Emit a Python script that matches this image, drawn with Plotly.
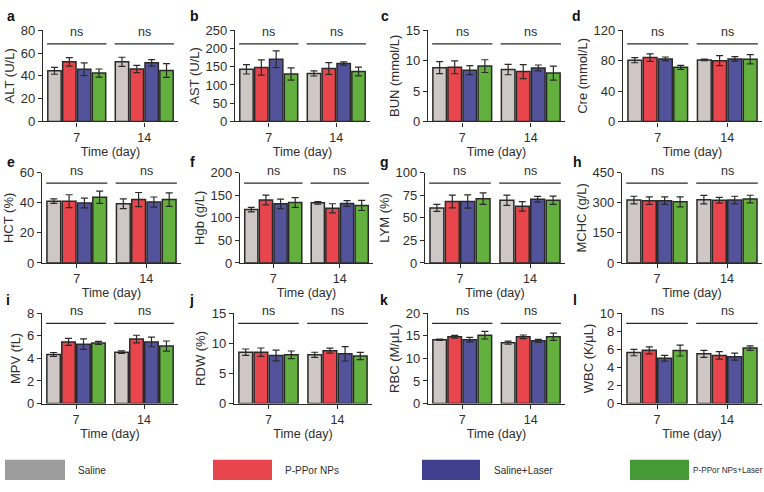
import plotly.graph_objects as go

W, H = 764, 492
groups = ["Saline", "P-PPor NPs", "Saline+Laser", "P-PPor NPs+Laser"]
days = ["7", "14"]
panel_letters = ["a", "b", "c", "d", "e", "f", "g", "h", "i", "j", "k", "l"]
ylabels = ["ALT (U/L)", "AST (U/L)", "BUN (mmol/L)", "Cre (mmol/L)",
           "HCT (%)", "Hgb (g/L)", "LYM (%)", "MCHC (g/L)",
           "MPV (fL)", "RDW (%)", "RBC (M/μL)", "WBC (K/μL)"]
ymax = [80, 250, 15, 120, 60, 200, 100, 450, 8, 15, 20, 10]
ydtick = [20, 50, 5, 40, 20, 50, 25, 150, 2, 5, 5, 2]

# means/errors: one row per group, columns = [day 7, day 14]
alt_mean = [[44.4, 52.3], [52.3, 46.0], [45.8, 51.4], [42.4, 44.7]]
alt_err = [[3.0, 4.0], [3.7, 3.2], [5.6, 2.9], [3.6, 6.0]]
ast_mean = [[143, 131.6], [148, 145], [170.5, 159], [130, 137]]
ast_err = [[13, 7], [21, 16], [23, 4.4], [17, 12]]
bun_mean = [[8.85, 8.53], [8.9, 8.2], [8.43, 8.8], [9.1, 7.95]]
bun_err = [[1.0, 0.85], [1.06, 1.15], [0.74, 0.48], [1.05, 1.15]]
cre_mean = [[80.6, 81.0], [84.0, 80.0], [82.3, 82.3], [71.2, 81.8]]
cre_err = [[3.4, 1.0], [5.0, 6.5], [2.5, 3.0], [2.6, 6.0]]
hct_mean = [[41.1, 39.4], [41.1, 42.2], [39.9, 40.5], [43.7, 42.2]]
hct_err = [[1.5, 3.2], [4.3, 4.7], [3.2, 3.4], [4.1, 4.5]]
hgb_mean = [[118.4, 133.3], [139.7, 121.3], [131.2, 132.0], [134.0, 127.7]]
hgb_err = [[5.0, 3.0], [10.7, 10.0], [10.6, 6.4], [10.7, 11.3]]
lym_mean = [[61.0, 69.5], [68.1, 62.8], [68.1, 70.6], [71.3, 69.5]]
lym_err = [[3.9, 5.7], [7.1, 5.3], [7.4, 3.2], [6.4, 4.6]]
mchc_mean = [[314, 316], [311, 313], [311, 314], [305, 319]]
mchc_err = [[19, 21], [19, 14], [19, 19], [25, 19]]
mpv_mean = [[4.36, 4.56], [5.47, 5.72], [5.27, 5.47], [5.38, 5.10]]
mpv_err = [[0.17, 0.11], [0.31, 0.34], [0.46, 0.43], [0.14, 0.45]]
rdw_mean = [[8.54, 8.1], [8.54, 8.8], [8.0, 8.28], [8.1, 7.9]]
rdw_err = [[0.53, 0.43], [0.7, 0.43], [0.9, 1.2], [0.64, 0.6]]
rbc_mean = [[14.16, 13.5], [14.8, 14.8], [14.16, 13.9], [15.16, 14.8]]
rbc_err = [[0.15, 0.35], [0.3, 0.4], [0.5, 0.35], [0.85, 0.8]]
wbc_mean = [[5.65, 5.51], [5.9, 5.34], [5.02, 5.2], [5.87, 6.15]]
wbc_err = [[0.35, 0.39], [0.39, 0.42], [0.32, 0.38], [0.6, 0.25]]

means = [alt_mean, ast_mean, bun_mean, cre_mean, hct_mean, hgb_mean,
         lym_mean, mchc_mean, mpv_mean, rdw_mean, rbc_mean, wbc_mean]
errs = [alt_err, ast_err, bun_err, cre_err, hct_err, hgb_err,
        lym_err, mchc_err, mpv_err, rdw_err, rbc_err, wbc_err]
sig_labels = ["ns", "ns"]

# styling
bar_colors = ["#CEC7C5", "#E8464C", "#52539A", "#63B03E"]
legend_colors = ["#9C9C9C", "#E8464C", "#3E408E", "#459A37"]
FONT = "Liberation Sans, Arial, sans-serif"
TXT = "#2e2e2e"
LINE = "#2a2a2a"

col_px = [[(43, 178), (235, 370), (428, 565), (623, 762)],
          [(42, 181), (240, 373), (425, 565), (622, 762)],
          [(42, 178), (234, 372), (428, 565), (622, 762)]]
row_px = [(24, 118), (171, 264), (316, 409)]
ns_frac = [0.85, 0.885, 0.89]
letter_px = [[(5, 9), (188, 9), (379, 9), (570, 9)],
             [(5, 160), (188, 160), (378, 160), (571, 160)],
             [(4, 302), (187, 302), (378, 302), (571, 302)]]

fig = go.Figure()
shapes = []
annotations = []
layout = {}

for i in range(12):
    r, c = divmod(i, 4)
    xa = "x" if i == 0 else f"x{i+1}"
    ya = "y" if i == 0 else f"y{i+1}"
    for g in range(4):
        fig.add_trace(go.Bar(
            x=days, y=means[i][g],
            error_y=dict(type="data", array=errs[i][g], color=LINE,
                         thickness=1.2, width=3.5),
            marker=dict(color=bar_colors[g], line=dict(color=LINE, width=1.5)),
            name=groups[g], offsetgroup=str(g), showlegend=False,
            xaxis=xa, yaxis=ya))
    x0, x1 = col_px[r][c]
    yt, yb = row_px[r]
    layout["xaxis" if i == 0 else f"xaxis{i+1}"] = dict(
        domain=[x0 / W, x1 / W], anchor=ya, type="category",
        categoryorder="array", categoryarray=days, range=[-0.5, 1.5],
        showline=True, linecolor=LINE, linewidth=1.2, ticks="outside",
        ticklen=4, tickcolor=LINE, tickwidth=1.2, showgrid=False,
        tickfont=dict(size=12.5, color=TXT, family=FONT),
        title=dict(text="Time (day)", font=dict(size=12.5, color=TXT, family=FONT),
                   standoff=3))
    layout["yaxis" if i == 0 else f"yaxis{i+1}"] = dict(
        domain=[(H - yb) / H, (H - yt) / H], anchor=xa,
        range=[0, ymax[i]], dtick=ydtick[i], tick0=0,
        showline=True, linecolor=LINE, linewidth=1.2, ticks="outside",
        ticklen=4, tickcolor=LINE, tickwidth=1.2, showgrid=False,
        zeroline=False,
        tickfont=dict(size=13, color=TXT, family=FONT),
        title=dict(text=ylabels[i], font=dict(size=13, color=TXT, family=FONT),
                   standoff=3))
    ns_y = ns_frac[r] * ymax[i]
    for k in range(2):
        shapes.append(dict(type="line", xref=xa, yref=ya,
                           x0=k - 0.44, x1=k + 0.44, y0=ns_y, y1=ns_y,
                           line=dict(color=LINE, width=1.3)))
        annotations.append(dict(x=k, y=ns_y, xref=xa, yref=ya,
                                text=sig_labels[k], showarrow=False,
                                yanchor="bottom", yshift=3,
                                font=dict(size=12.5, color=TXT, family=FONT)))
    lx, ly = letter_px[r][c]
    annotations.append(dict(x=lx / W, y=1 - ly / H, xref="paper", yref="paper",
                            xanchor="left", yanchor="middle", showarrow=False,
                            text=f"<b>{panel_letters[i]}</b>",
                            font=dict(size=14, color="#111", family=FONT)))

# legend (custom boxes)
legend_box_px = [(5, 65), (213, 272), (422, 480), (630, 689)]
legend_text_px = [77, 284, 493, 763.5]
legend_anchor = ["left", "left", "left", "right"]
legend_size = [10, 10, 10, 8.2]
for g in range(4):
    bx0, bx1 = legend_box_px[g]
    shapes.append(dict(type="rect", xref="paper", yref="paper",
                       x0=bx0 / W, x1=bx1 / W, y0=1 - 488 / H, y1=1 - 467 / H,
                       fillcolor=legend_colors[g], line=dict(width=0)))
    annotations.append(dict(x=legend_text_px[g] / W, y=1 - 478 / H,
                            xref="paper", yref="paper", xanchor=legend_anchor[g],
                            yanchor="middle", showarrow=False, text=groups[g],
                            borderpad=0,
                            font=dict(size=legend_size[g], color=TXT, family=FONT)))

fig.update_layout(**layout)
fig.update_layout(
    width=W, height=H, margin=dict(l=0, r=0, t=0, b=0),
    paper_bgcolor="white", plot_bgcolor="white",
    barmode="group", bargap=0.12, bargroupgap=0.1,
    shapes=shapes, annotations=annotations, showlegend=False,
    font=dict(family=FONT, color=TXT))

fig.write_html("out.html", config={"displayModeBar": False},
               post_script="document.body.style.margin='0';")
